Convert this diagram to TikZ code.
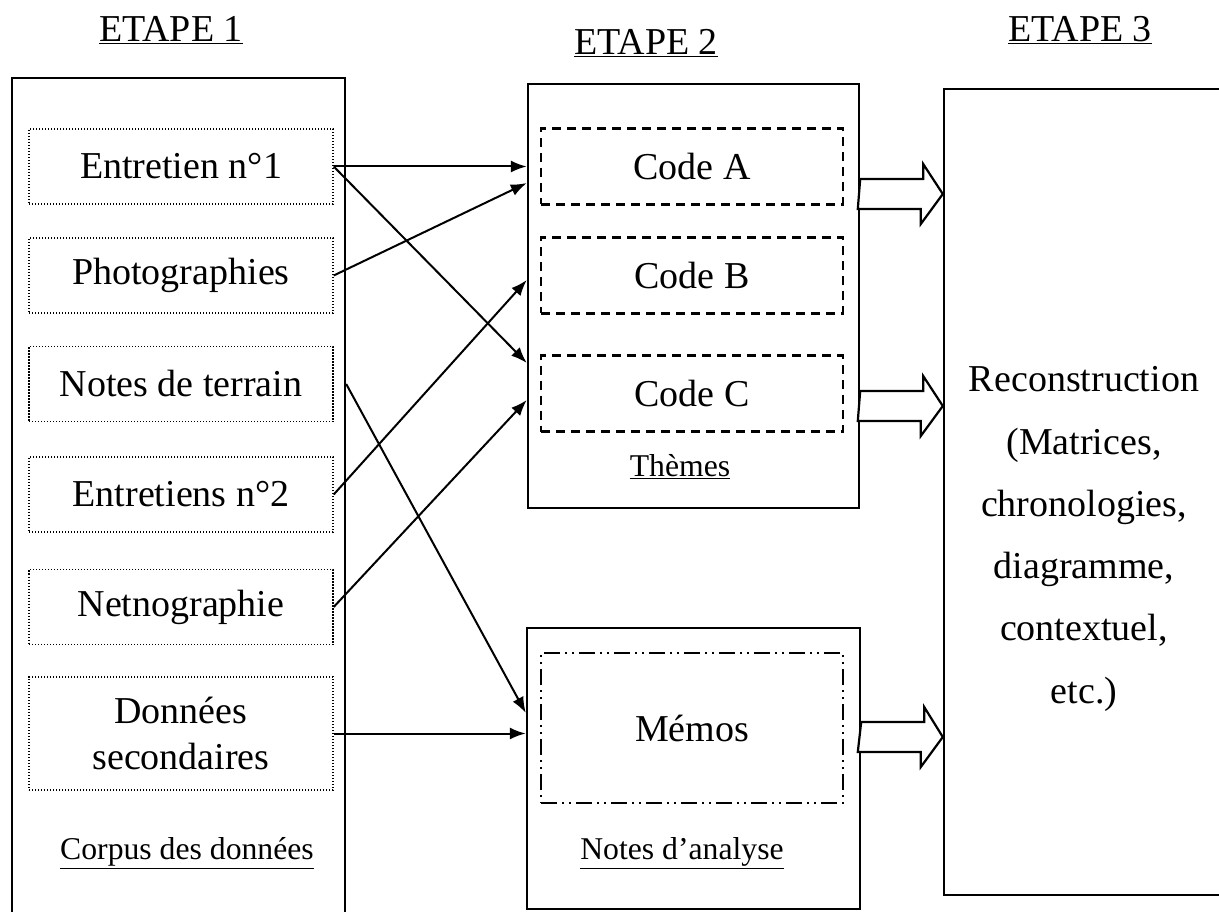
\documentclass[tikz,border=0pt]{standalone}
\usepackage{fontspec}
\setmainfont{Liberation Serif}
\usepackage{tikz}
\usetikzlibrary{arrows.meta}

\begin{document}
\begin{tikzpicture}[x=1pt, y=-1pt,
  >={Latex[length=16pt,width=12pt]},
  every node/.style={font=\fontsize{38}{46}\selectfont},
  conteneur/.style={draw, line width=2.4pt, inner sep=0pt},
  source/.style={draw, line width=1.4pt, dash pattern=on 1.4pt off 1.6pt,
    minimum width=304pt, minimum height=75pt, inner sep=0pt, align=center},
  code/.style={draw, line width=2.2pt, dash pattern=on 9pt off 6pt,
    minimum width=302pt, minimum height=76pt, inner sep=0pt},
  memo/.style={draw, line width=2.2pt,
    dash pattern=on 16pt off 5pt on 2pt off 5pt on 2pt off 5pt,
    minimum width=302pt, minimum height=150pt, inner sep=0pt},
  fleche/.style={->, line width=2pt},
  grosse/.style={draw, line width=2.2pt, fill=white},
  petit/.style={font=\fontsize{31.7}{38}\selectfont}]

  % cadre de la page
  \useasboundingbox (0,0) rectangle (1219,912);
  \fill[white] (0,0) rectangle (1219,912);
  \clip (0,0) rectangle (1219,912);

  % titres des etapes
  \node (etape1) at (171,30) {\underline{ETAPE 1}};
  \node (etape2) at (646,43) {\underline{ETAPE 2}};
  \node (etape3) at (1080,30) {\underline{ETAPE 3}};

  % grands cadres
  \node[conteneur, minimum width=333pt, minimum height=852pt] (corpus) at (178.5,504) {};
  \node[conteneur, minimum width=331pt, minimum height=424pt] (themes) at (693.5,296) {};
  \node[conteneur, minimum width=333pt, minimum height=281pt] (analyse) at (693.5,768.5) {};
  \node[conteneur, minimum width=296pt, minimum height=806pt] (recon) at (1092,492) {};

  % corpus des donnees
  \node[source] (ent1) at (181,166.5) {Entretien n°1};
  \node[source] (photo) at (181,275.5) {Photographies};
  \node[source] (terrain) at (181,384) {Notes de terrain};
  \node[source] (ent2) at (181,494.5) {Entretiens n°2};
  \node[source] (netno) at (181,607) {Netnographie};
  \node[source, minimum height=113pt] (second) at (181,733.5) {Données\\secondaires};
  \node[petit] (lcorpus) at (187,853) {\underline{Corpus des données}};

  % themes
  \node[code] (codeA) at (692,166.5) {Code A};
  \node[code] (codeB) at (692,275.5) {Code B};
  \node[code] (codeC) at (692,393.5) {Code C};
  \node[petit] (lthemes) at (680,467) {\underline{Thèmes}};

  % notes d'analyse
  \node[memo] (memos) at (692,728) {Mémos};
  \node[petit] (lanalyse) at (682,853) {\underline{Notes d’analyse}};

  % reconstruction
  \node[align=center, font=\fontsize{38}{62.3}\selectfont] (rtexte) at (1084,539)
    {Reconstruction\\(Matrices,\\chronologies,\\diagramme,\\contextuel,\\etc.)};

  % fleches vers les codes
  \draw[fleche] (ent1.east) -- (ent1.east -| themes.west);
  \draw[fleche] (ent1.east) -- (themes.west |- 0,363);
  \draw[fleche] (photo.east) -- (themes.west |- 0,183);
  \draw[fleche] (ent2.east) -- (themes.west |- 0,280);
  \draw[fleche] (netno.east) -- (themes.west |- 0,400);

  % fleches vers les memos
  \draw[fleche] (terrain.east -| corpus.east) -- (analyse.west |- 0,713);
  \draw[fleche] (second.east) -- (second.east -| analyse.west);

  % grosses fleches vers l'etape 3
  \draw[grosse] (themes.east |- 0,179) -- ++(63,0) -- ++(0,-15) -- (recon.west |- 0,194)
    -- ++(-22,30) -- ++(0,-15) -- ++(-63,0) -- cycle;
  \draw[grosse] (themes.east |- 0,391) -- ++(63,0) -- ++(0,-15) -- (recon.west |- 0,406)
    -- ++(-22,30) -- ++(0,-15) -- ++(-63,0) -- cycle;
  \draw[grosse] (analyse.east |- 0,722) -- ++(63,0) -- ++(0,-15) -- (recon.west |- 0,737)
    -- ++(-22,30) -- ++(0,-15) -- ++(-63,0) -- cycle;
\end{tikzpicture}
\end{document}
